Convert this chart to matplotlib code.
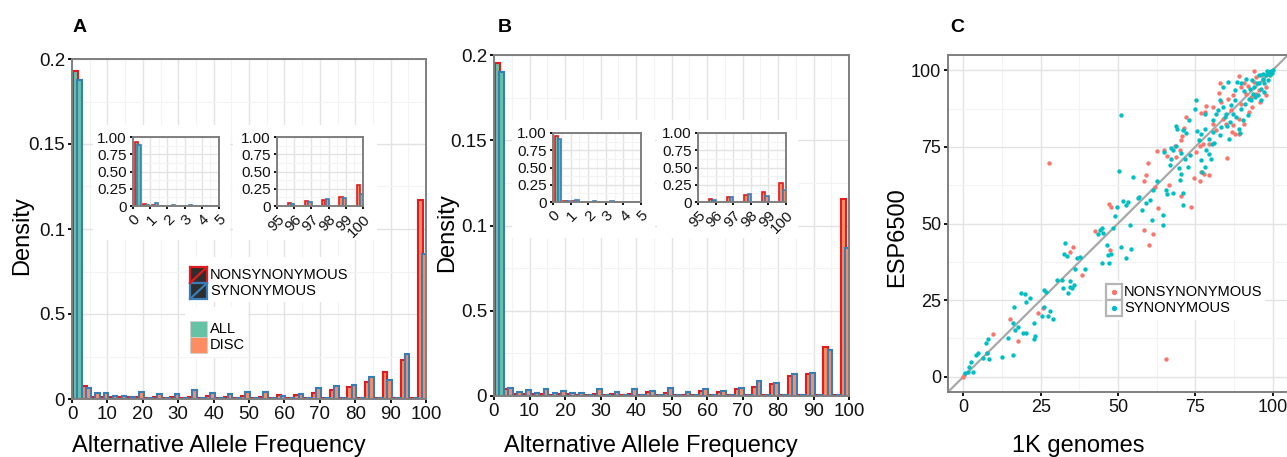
import numpy as np
import matplotlib
matplotlib.use('Agg')
import matplotlib.pyplot as plt
from matplotlib.patches import Rectangle
from matplotlib.lines import Line2D
from matplotlib.ticker import MultipleLocator, FixedLocator, FixedFormatter

plt.rcParams['font.family'] = ['Liberation Sans', 'DejaVu Sans']

W, H = 1287, 457

# ---- panel A / B histograms (bins of 2.5 %) ----
bin_starts = np.arange(0, 100, 2.5)

a_nonsyn = [0.193, 0.0077, 0.0014, 0.0014, 0.0010, 0.0010, 0.0014, 0.0012, 0.0006, 0.0010,
            0.0006, 0.0012, 0.0006, 0.0012, 0.0005, 0.0018, 0.0005, 0.0012, 0.0008, 0.0020,
            0.0005, 0.0014, 0.0005, 0.0024, 0.0005, 0.0024, 0.0005, 0.0033, 0.0006, 0.0053,
            0.0006, 0.0069, 0.0006, 0.0102, 0.0006, 0.0160, 0.0006, 0.0230, 0.0008, 0.117]
a_syn = [0.1877, 0.0063, 0.0033, 0.0037, 0.0018, 0.0018, 0.0014, 0.0043, 0.0006, 0.0030,
         0.0005, 0.0030, 0.0005, 0.0053, 0.0004, 0.0033, 0.0004, 0.0030, 0.0004, 0.0043,
         0.0004, 0.0043, 0.0004, 0.0020, 0.0004, 0.0030, 0.0004, 0.0063, 0.0004, 0.0076,
         0.0004, 0.0084, 0.0004, 0.0127, 0.0004, 0.0112, 0.0004, 0.0265, 0.0004, 0.0852]
b_nonsyn = [0.1955, 0.0039, 0.0010, 0.0012, 0.0010, 0.0010, 0.0008, 0.0010, 0.0014, 0.0008,
            0.0006, 0.0010, 0.0006, 0.0010, 0.0005, 0.0010, 0.0005, 0.0021, 0.0005, 0.0016,
            0.0005, 0.0008, 0.0005, 0.0030, 0.0005, 0.0025, 0.0005, 0.0040, 0.0005, 0.0055,
            0.0005, 0.0070, 0.0005, 0.0117, 0.0005, 0.0129, 0.0005, 0.0290, 0.0005, 0.1155]
b_syn = [0.190, 0.0045, 0.0025, 0.0035, 0.0016, 0.0043, 0.0016, 0.0027, 0.0020, 0.0016,
         0.0005, 0.0041, 0.0005, 0.0025, 0.0005, 0.0041, 0.0005, 0.0030, 0.0005, 0.0044,
         0.0005, 0.0021, 0.0005, 0.0043, 0.0005, 0.0030, 0.0005, 0.0045, 0.0005, 0.0088,
         0.0005, 0.0074, 0.0005, 0.0129, 0.0005, 0.0137, 0.0005, 0.0268, 0.0005, 0.0866]

# insets: 0-5 % (bins of 0.5) and 95-100 % (bins of 1)
low_starts = np.arange(0, 5, 0.5)
high_starts = np.arange(95, 100, 1)
a_low_nonsyn = [0.93, 0.03, 0.01, 0.005, 0.005, 0.004, 0.004, 0.003, 0.002, 0.002]
a_low_syn = [0.89, 0.01, 0.04, 0.005, 0.02, 0.005, 0.01, 0.004, 0.006, 0.003]
a_high_nonsyn = [0.05, 0.07, 0.09, 0.13, 0.31]
a_high_syn = [0.03, 0.06, 0.10, 0.11, 0.17]
b_low_nonsyn = [0.96, 0.02, 0.008, 0.005, 0.004, 0.004, 0.003, 0.003, 0.002, 0.002]
b_low_syn = [0.92, 0.01, 0.03, 0.005, 0.015, 0.005, 0.01, 0.004, 0.006, 0.003]
b_high_nonsyn = [0.045, 0.07, 0.10, 0.14, 0.28]
b_high_syn = [0.035, 0.07, 0.11, 0.09, 0.17]

# ---- panel C scatter (1K genomes vs ESP6500) ----
ns_x = [27.7, 65.4, 9.4, 15.1, 17.8, 24.0, 25.7, 34.6, 35.5, 38.3, 42.5, 47.2, 47.8, 47.5,
        58.5, 59.9, 61.2, 63.0, 59.1, 59.6, 58.5, 62.1, 62.5, 65.0, 65.7, 66.6, 70.3, 73.7,
        74.5, 76.4, 77.0, 77.7, 79.4, 75.1, 76.6, 71.9, 71.4, 77.0, 78.6, 80.7, 82.6, 83.1,
        85.4, 89.1, 90.7, 94.1, 88.0, 85.0, 86.6, 89.8, 92.5, 93.0, 95.7, 96.8, 97.9, 94.7,
        91.4, 83.9, 81.8, 80.7, 78.0, 79.6, 77.5, 70.5, 70.8, 68.9, 68.4, 70.0, 83.4, 85.5,
        87.1, 89.8, 92.0, 94.1, 96.2, 98.4, 98.9, 90.9, 89.3, 87.3, 86.9, 89.1, 94.7, 97.9,
        93.4, 96.0, 0.3, 0.0, 7.5]
ns_y = [69.6, 5.7, 13.9, 18.7, 11.6, 20.9, 22.3, 40.8, 42.2, 33.2, 47.5, 56.5, 55.4, 41.3,
        48.0, 42.9, 46.7, 55.2, 65.8, 69.9, 63.8, 61.8, 73.6, 74.1, 72.1, 62.5, 58.9, 55.4,
        64.9, 63.8, 66.8, 66.3, 65.8, 73.4, 75.2, 84.8, 81.3, 86.2, 88.4, 88.0, 92.7, 95.9,
        71.5, 98.0, 95.7, 99.7, 79.3, 82.6, 87.0, 89.1, 86.4, 91.3, 93.5, 96.7, 94.6, 97.8,
        92.4, 84.2, 80.4, 82.6, 86.4, 76.1, 76.1, 77.2, 78.5, 71.7, 75.2, 74.1, 89.7, 90.8,
        91.8, 94.6, 94.8, 96.2, 98.4, 99.5, 98.9, 82.6, 84.2, 82.1, 79.9, 79.3, 92.4, 91.8,
        88.0, 89.7, 0.5, 0.0, 7.8]
syn_x = [0.5, 1.4, 1.9, 2.5, 3.1, 4.1, 4.6, 6.2, 7.3, 7.8, 7.6, 8.4, 12.6, 14.3, 15.9, 16.4,
         15.9, 16.6, 17.5, 18.5, 19.4, 19.8, 20.2, 20.3, 21.5, 22.8, 22.8, 23.2, 25.5, 26.0,
         26.0, 26.8, 27.3, 27.9, 29.0, 30.3, 31.9, 32.3, 32.8, 32.5, 33.5, 33.8, 34.4, 34.6,
         35.2, 35.7, 36.2, 36.8, 37.8, 39.2, 43.5, 44.2, 44.8, 45.1, 44.8, 46.4, 46.9, 47.1,
         47.8, 48.5, 48.9, 49.6, 50.2, 50.9, 50.9, 51.6, 52.6, 53.1, 52.6, 53.9, 54.1, 54.7,
         56.6, 56.9, 57.9, 59.0, 60.2, 60.9, 61.2, 62.5, 64.5, 64.5, 65.0, 65.4, 65.9, 66.8,
         67.0, 67.3, 67.8, 67.8, 68.7, 68.9, 69.2, 69.7, 70.2, 70.3, 70.5, 71.1, 71.1, 71.1,
         71.6, 71.9, 72.7, 73.0, 73.4, 74.8, 75.3, 75.6, 76.2, 76.7, 77.0, 77.3, 78.0, 78.3,
         78.6, 78.0, 79.4, 79.6, 80.0, 80.5, 80.7, 81.0, 81.8, 82.3, 83.1, 83.4, 83.9, 84.1,
         84.5, 85.0, 85.2, 85.9, 86.1, 86.6, 87.1, 88.0, 88.2, 88.4, 89.1, 89.5, 89.8, 90.4,
         90.9, 91.2, 91.4, 92.0, 92.3, 92.7, 93.0, 93.4, 93.6, 94.1, 94.4, 94.9, 95.5, 95.7,
         96.2, 96.8, 97.0, 97.3, 97.9, 98.1, 98.4, 98.7, 99.1, 99.5, 99.8, 100.0, 96.2, 95.2,
         97.3, 82.9, 80.7, 85.5, 87.8, 89.8]
syn_y = [1.1, 1.6, 3.3, 4.9, 1.4, 7.1, 7.8, 6.0, 10.9, 12.2, 7.8, 5.7, 6.5, 12.7, 7.1, 22.8,
         17.4, 15.2, 16.3, 27.2, 14.3, 27.0, 24.5, 14.1, 25.8, 17.4, 12.2, 13.3, 19.8, 22.8,
         28.3, 27.7, 19.8, 21.4, 18.7, 31.7, 31.7, 28.8, 43.5, 40.2, 39.3, 27.2, 29.3, 31.3,
         28.8, 29.9, 35.3, 38.6, 39.1, 35.3, 46.7, 47.8, 48.4, 47.0, 37.2, 42.9, 39.7, 37.2,
         40.2, 48.4, 52.4, 55.4, 67.1, 85.3, 42.4, 57.3, 38.6, 57.1, 56.0, 49.5, 41.8, 65.2,
         58.2, 58.7, 54.3, 56.7, 57.6, 51.1, 60.9, 63.9, 52.7, 49.5, 73.4, 60.9, 59.6, 69.0,
         74.5, 71.2, 59.8, 74.1, 81.7, 75.2, 80.7, 68.2, 64.1, 73.0, 66.0, 56.0, 60.0, 80.4,
         71.2, 79.6, 68.5, 83.9, 72.3, 87.5, 90.2, 80.1, 77.2, 79.3, 70.7, 66.8, 68.5, 81.0,
         73.9, 85.7, 72.8, 77.7, 71.2, 76.1, 79.9, 76.3, 85.7, 87.0, 79.0, 81.5, 94.6, 88.0,
         84.8, 85.9, 81.7, 77.7, 83.0, 88.8, 85.9, 90.2, 84.8, 96.2, 81.0, 79.6, 87.5, 83.7,
         93.2, 89.1, 97.3, 85.3, 90.8, 94.0, 90.2, 96.7, 92.4, 94.6, 91.3, 95.9, 98.4, 95.7,
         94.0, 98.9, 97.3, 95.7, 98.4, 99.8, 97.0, 99.5, 98.4, 99.8, 99.1, 100.0, 90.4, 91.8,
         92.9, 90.2, 83.7, 96.2, 93.5, 95.7]

RED = '#E41A1C'
BLUE = '#377EB8'
ALL_C = '#66C2A5'
DISC_C = '#FC8D62'
NS_PT = '#F8766D'
SYN_PT = '#00BFC4'
GRID_MAJ = '#e3e3e3'
GRID_MIN = '#f3f3f3'


def box(x0, y0, x1, y1):
    # pixel box (top-left origin) -> figure fraction rect
    return [x0 / W, 1 - y1 / H, (x1 - x0) / W, (y1 - y0) / H]


def style(ax, labelsize, ticklen=3.0):
    ax.set_axisbelow(True)
    ax.grid(which='major', color=GRID_MAJ, lw=1.0)
    ax.grid(which='minor', color=GRID_MIN, lw=0.8)
    for s in ax.spines.values():
        s.set_color('#7f7f7f')
        s.set_linewidth(1.4)
    ax.tick_params(which='major', length=ticklen, width=1.3, color='black',
                   labelsize=labelsize, pad=2, labelcolor='#111111')
    ax.tick_params(which='minor', length=0)


def bars(ax, starts, binw, nonsyn, syn, pos, off, width, lw):
    centers = np.asarray(starts) + pos * binw
    fills = [ALL_C] + [DISC_C] * (len(starts) - 1)
    ax.bar(centers - off * binw, nonsyn, width=width * binw, color=fills,
           edgecolor=RED, linewidth=lw, zorder=2)
    ax.bar(centers + off * binw, syn, width=width * binw, color=fills,
           edgecolor=BLUE, linewidth=lw, zorder=2)


def white(ax, fig, x0, y0, x1, y1):
    r = box(x0, y0, x1, y1)
    ax.add_patch(Rectangle((r[0], r[1]), r[2], r[3], transform=fig.transFigure,
                           facecolor='white', edgecolor='none', zorder=0.9))


fig = plt.figure(figsize=(W / 100, H / 100), dpi=100)


def hist_panel(rect, starts_all, nonsyn, syn, low, high, ins1, ins2, wboxes):
    ax = fig.add_axes(box(*rect))
    style(ax, 13.5)
    bars(ax, starts_all, 2.5, nonsyn, syn, 0.62, 0.24, 0.52, 1.5)
    ax.set_xlim(0, 100)
    ax.set_ylim(0, 0.2)
    ax.xaxis.set_major_locator(MultipleLocator(10))
    ax.xaxis.set_minor_locator(MultipleLocator(5))
    ax.yaxis.set_major_locator(FixedLocator([0, 0.05, 0.1, 0.15, 0.2]))
    ax.yaxis.set_major_formatter(FixedFormatter(['0', '0.5', '0.1', '0.15', '0.2']))
    ax.yaxis.set_minor_locator(MultipleLocator(0.025))
    for wb in wboxes:
        white(ax, fig, *wb)

    for r, starts, binw, ns, sy, pos, off, width, lim in [
            (ins1, low_starts, 0.5, low[0], low[1], 0.54, 0.17, 0.38, (0, 5)),
            (ins2, high_starts, 1.0, high[0], high[1], 0.82, 0.10, 0.19, (95, 100))]:
        ia = fig.add_axes(box(*r))
        style(ia, 11, ticklen=2.5)
        bars(ia, starts, binw, ns, sy, pos, off, width, 1.2)
        ia.set_xlim(*lim)
        ia.set_ylim(0, 1)
        ia.xaxis.set_major_locator(MultipleLocator(1))
        ia.xaxis.set_minor_locator(MultipleLocator(0.5))
        ia.yaxis.set_major_locator(FixedLocator([0, 0.25, 0.5, 0.75, 1.0]))
        ia.yaxis.set_major_formatter(FixedFormatter(['0', '0.25', '0.50', '0.75', '1.00']))
        ia.yaxis.set_minor_locator(MultipleLocator(0.125))
        for lab in ia.get_xticklabels():
            lab.set_rotation(45)
            lab.set_ha('right')
            lab.set_rotation_mode('anchor')
    return ax


axA = hist_panel((72, 59, 426, 399), bin_starts, a_nonsyn, a_syn,
                 (a_low_nonsyn, a_low_syn), (a_high_nonsyn, a_high_syn),
                 (133, 137, 219, 206), (277, 137, 363, 206),
                 [(93, 125, 230, 240), (233, 125, 377, 240),
                  (187, 257, 347, 302), (185, 307, 248, 357)])
axB = hist_panel((494, 55, 849, 396), bin_starts, b_nonsyn, b_syn,
                 (b_low_nonsyn, b_low_syn), (b_high_nonsyn, b_high_syn),
                 (553, 133, 641, 202), (698, 133, 786, 202),
                 [(512, 120, 655, 238), (657, 120, 798, 238)])

# legends of panel A
for (y0, edge, lab) in [(267, RED, 'NONSYNONYMOUS'), (283, BLUE, 'SYNONYMOUS')]:
    r = box(190, y0, 207, y0 + 16)
    fig.add_artist(Rectangle((r[0], r[1]), r[2], r[3], facecolor='#2e2e2e',
                             edgecolor=edge, lw=1.6, transform=fig.transFigure))
    fig.add_artist(Line2D([r[0], r[0] + r[2]], [r[1], r[1] + r[3]], color=edge, lw=1.6,
                          transform=fig.transFigure))
    fig.text(210 / W, 1 - (y0 + 8) / H, lab, fontsize=10.5, va='center', ha='left')
for (y0, col, lab) in [(321, ALL_C, 'ALL'), (337, DISC_C, 'DISC')]:
    r = box(190, y0, 207, y0 + 16)
    fig.add_artist(Rectangle((r[0], r[1]), r[2], r[3], facecolor=col,
                             edgecolor='#d0d0d0', lw=0.6, transform=fig.transFigure))
    fig.text(210 / W, 1 - (y0 + 8) / H, lab, fontsize=10.5, va='center', ha='left')

# ---- panel C ----
axC = fig.add_axes(box(948, 55, 1288, 392))
style(axC, 13)
axC.set_xlim(-5, 105)
axC.set_ylim(-5, 105)
axC.xaxis.set_major_locator(MultipleLocator(25))
axC.xaxis.set_minor_locator(MultipleLocator(12.5))
axC.yaxis.set_major_locator(MultipleLocator(25))
axC.yaxis.set_minor_locator(MultipleLocator(12.5))
axC.axline((0, 0), slope=1, color='#a8a8a8', lw=1.6, zorder=1.5)
axC.scatter(ns_x, ns_y, s=10, color=NS_PT, linewidths=0, zorder=2)
axC.scatter(syn_x, syn_y, s=10, color=SYN_PT, linewidths=0, zorder=2)
white(axC, fig, 1103, 281, 1265, 320)
for (y0, col, lab) in [(284, NS_PT, 'NONSYNONYMOUS'), (300, SYN_PT, 'SYNONYMOUS')]:
    r = box(1106, y0, 1122, y0 + 16)
    fig.add_artist(Rectangle((r[0], r[1]), r[2], r[3], facecolor='white',
                             edgecolor='#b5b5b5', lw=1.6, transform=fig.transFigure))
    fig.add_artist(Line2D([1114 / W], [1 - (y0 + 8) / H], marker='o', markersize=2.8,
                          color=col, lw=0, transform=fig.transFigure))
    fig.text(1124 / W, 1 - (y0 + 8) / H, lab, fontsize=10.5, va='center', ha='left')

# axis titles and panel letters
fig.text(219 / W, 1 - 446 / H, 'Alternative Allele Frequency', fontsize=17, ha='center', va='center')
fig.text(651 / W, 1 - 446 / H, 'Alternative Allele Frequency', fontsize=17, ha='center', va='center')
fig.text(1078 / W, 1 - 446 / H, '1K genomes', fontsize=17, ha='center', va='center')
fig.text(22 / W, 1 - 236 / H, 'Density', fontsize=17, rotation=90, ha='center', va='center')
fig.text(447 / W, 1 - 233 / H, 'Density', fontsize=17, rotation=90, ha='center', va='center')
fig.text(897 / W, 1 - 237 / H, 'ESP6500', fontsize=17, rotation=90, ha='center', va='center')
for x, t in [(80, 'A'), (505, 'B'), (957, 'C')]:
    fig.text(x / W, 1 - 28 / H, t, fontsize=14, fontweight='bold', ha='center', va='center')

fig.savefig('out.png', dpi=100)
